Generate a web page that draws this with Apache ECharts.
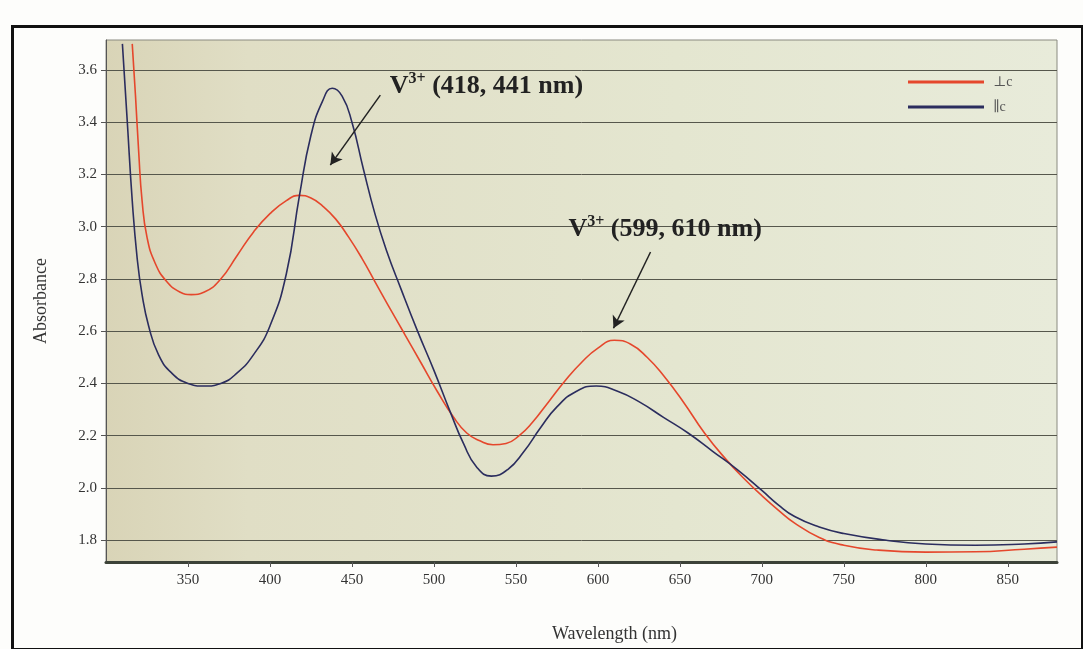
<!DOCTYPE html>
<html>
<head>
<meta charset="utf-8">
<script src="https://cdn.jsdelivr.net/npm/echarts@6/dist/echarts.min.js"></script>
<style>
html,body{margin:0;padding:0;background:#fdfdfb;}
#chart{width:1083px;height:649px;}
</style>
</head>
<body>
<div id="chart"></div>
<script>
// ---- data ----
const xTicks = [350, 400, 450, 500, 550, 600, 650, 700, 750, 800, 850];
const yTicks = [1.8, 2.0, 2.2, 2.4, 2.6, 2.8, 3.0, 3.2, 3.4, 3.6];

const perpName = '⊥c';
const perpX = [316, 318, 320, 322, 325, 330, 337, 345, 352, 360, 370, 380, 390, 400, 410, 418, 425, 432, 440, 448, 456, 464, 472, 482, 492, 502, 512, 520, 528, 536, 544, 552, 560, 570, 580, 590, 600, 610, 620, 630, 640, 652, 665, 678, 690, 700, 710, 720, 735, 750, 770, 800, 830, 860, 880];
const perpY = [3.70, 3.50, 3.28, 3.10, 2.96, 2.86, 2.79, 2.75, 2.74, 2.75, 2.80, 2.89, 2.98, 3.05, 3.10, 3.12, 3.11, 3.08, 3.03, 2.96, 2.88, 2.79, 2.70, 2.59, 2.48, 2.37, 2.27, 2.21, 2.18, 2.165, 2.17, 2.20, 2.25, 2.33, 2.41, 2.48, 2.535, 2.565, 2.55, 2.50, 2.43, 2.33, 2.21, 2.11, 2.03, 1.97, 1.915, 1.865, 1.81, 1.78, 1.762, 1.754, 1.755, 1.765, 1.773];

const paraName = '∥c';
const paraX = [310, 313, 316, 319, 322, 326, 332, 340, 350, 360, 370, 380, 390, 400, 410, 418, 425, 432, 438, 444, 450, 457, 464, 471, 480, 490, 500, 510, 518, 526, 535, 545, 555, 565, 575, 587, 599, 612, 625, 640, 655, 670, 685, 700, 710, 720, 735, 750, 775, 800, 830, 860, 880];
const paraY = [3.70, 3.40, 3.10, 2.88, 2.74, 2.62, 2.51, 2.44, 2.40, 2.39, 2.40, 2.44, 2.51, 2.62, 2.82, 3.12, 3.35, 3.48, 3.53, 3.50, 3.40, 3.22, 3.05, 2.91, 2.76, 2.60, 2.45, 2.29, 2.17, 2.08, 2.045, 2.07, 2.14, 2.23, 2.31, 2.37, 2.39, 2.37, 2.33, 2.27, 2.21, 2.14, 2.07, 1.99, 1.935, 1.89, 1.85, 1.825, 1.80, 1.785, 1.78, 1.785, 1.793];

const annotations = [
  {label: '(418, 441 nm)', at: [532, 3.543], arrowFrom: [467.3, 3.504], arrowTo: [436.8, 3.236]},
  {label: '(599, 610 nm)', at: [641, 2.995], arrowFrom: [632.1, 2.903], arrowTo: [609.5, 2.611]}
];

// ---- build ----
const zip = (xs, ys) => xs.map((x, i) => [x, ys[i]]);
const serif = '"Liberation Serif", "DejaVu Serif", serif';

const chart = echarts.init(document.getElementById('chart'), null, {renderer: 'canvas'});
chart.setOption({
  animation: false,
  backgroundColor: '#fdfdfb',
  grid: {
    left: 106, top: 40, right: 26, bottom: 87,
    show: true,
    borderColor: '#8a8a80', borderWidth: 1,
    backgroundColor: {
      type: 'linear', x: 0, y: 0, x2: 1, y2: 0,
      colorStops: [
        {offset: 0, color: '#d9d4b7'},
        {offset: 0.15, color: '#e0dec5'},
        {offset: 0.6, color: '#e4e6d0'},
        {offset: 1, color: '#e8ebda'}
      ]
    }
  },
  legend: {
    orient: 'vertical',
    left: 903, top: 70,
    itemWidth: 76, itemHeight: 3, itemGap: 11,
    icon: 'rect',
    textStyle: {fontFamily: serif, fontSize: 14, color: '#555', padding: [0, 0, 0, 4]},
    data: [perpName, paraName]
  },
  xAxis: {
    type: 'value', min: 300, max: 880,
    name: 'Wavelength (nm)', nameLocation: 'middle', nameGap: 63,
    nameTextStyle: {fontFamily: serif, fontSize: 18, color: '#333', padding: [0, 0, 0, 66]},
    axisLine: {show: true, lineStyle: {color: '#3c4238', width: 3}},
    axisTick: {show: true, inside: false, length: 5, customValues: xTicks, lineStyle: {color: '#555'}},
    axisLabel: {customValues: xTicks, margin: 11, fontFamily: serif, fontSize: 15, color: '#333'},
    splitLine: {show: false}
  },
  yAxis: {
    type: 'value', min: 1.716, max: 3.715,
    name: 'Absorbance', nameLocation: 'middle', nameGap: 56, nameRotate: 90,
    nameTextStyle: {fontFamily: serif, fontSize: 18, color: '#333'},
    axisLine: {show: true, lineStyle: {color: '#555', width: 1}},
    axisTick: {show: true, length: 5, customValues: yTicks, lineStyle: {color: '#555'}},
    axisLabel: {customValues: yTicks, margin: 9, fontFamily: serif, fontSize: 15, color: '#333',
      formatter: v => v.toFixed(1)},
    splitLine: {show: true, lineStyle: {color: '#56574c', width: 1}}
  },
  series: [
    {
      name: perpName, type: 'line', smooth: 0.5, showSymbol: false,
      data: zip(perpX, perpY),
      lineStyle: {color: '#e5472c', width: 1.6}, itemStyle: {color: '#e5472c'},
      z: 3
    },
    {
      name: paraName, type: 'line', smooth: 0.5, showSymbol: false,
      data: zip(paraX, paraY),
      lineStyle: {color: '#2b2d5e', width: 1.6}, itemStyle: {color: '#2b2d5e'},
      z: 4,
      markLine: {
        silent: true, animation: false,
        symbol: ['none', 'arrow'], symbolSize: [10, 12],
        lineStyle: {color: '#222', width: 1.5, type: 'solid'},
        label: {show: false},
        data: annotations.map(a => [{coord: a.arrowFrom}, {coord: a.arrowTo}])
      },
      markPoint: {
        silent: true, animation: false,
        symbol: 'rect', symbolSize: 1, itemStyle: {color: 'rgba(0,0,0,0)'},
        label: {
          show: true, position: 'inside',
          formatter: p => '{b|V}{s|3+}{b| ' + p.name + '}',
          rich: {
            b: {fontFamily: serif, fontWeight: 'bold', fontSize: 26, color: '#222', lineHeight: 28, verticalAlign: 'bottom'},
            s: {fontFamily: serif, fontWeight: 'bold', fontSize: 16, color: '#222', lineHeight: 28, verticalAlign: 'top', padding: [0, 0, 12, 0]}
          }
        },
        data: annotations.map(a => ({name: a.label, coord: a.at}))
      }
    }
  ],
  graphic: [
    {type: 'rect', left: 10, top: 24, shape: {width: 1070, height: 623},
      style: {fill: 'none', stroke: '#111', lineWidth: 3}, silent: true, z: 100}
  ]
});
</script>
</body>
</html>
